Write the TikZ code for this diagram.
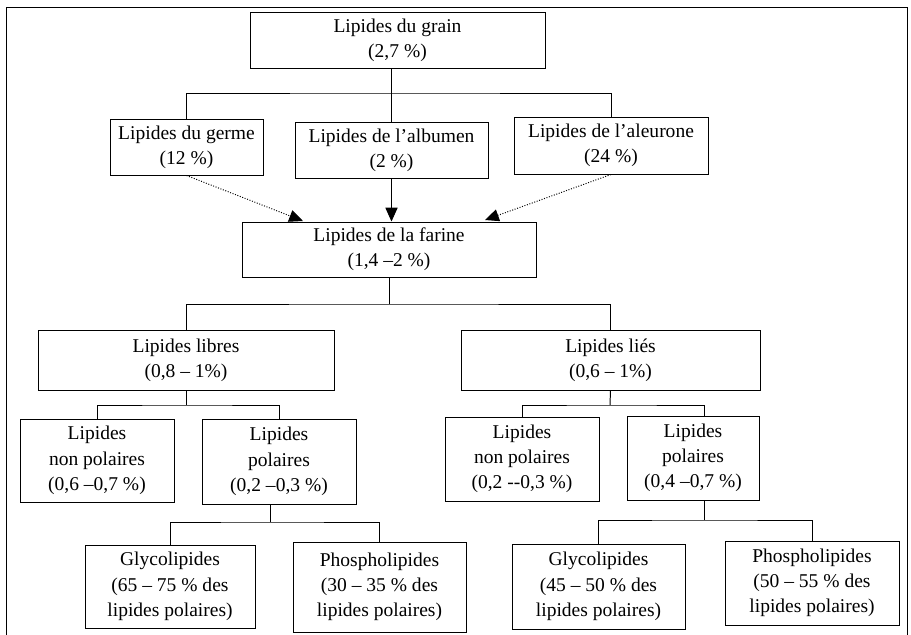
\documentclass[tikz,border=0pt]{standalone}
\usepackage{fontspec}
\setmainfont{Liberation Serif}
\usetikzlibrary{arrows.meta}
\newlength{\pxu}
\setlength{\pxu}{0.615pt}

\begin{document}
\begin{tikzpicture}[x=0.615pt,y=-0.615pt,
        lipbox/.style={draw=black,line width=0.6pt,inner sep=0pt,align=center,font=\fontsize{12}{15.5}\selectfont},
        tree/.style={line width=0.6pt},
        flow/.style={line width=0.6pt,-{Triangle[length=8.5pt,width=7.5pt]}},
        leak/.style={flow,densely dotted}]
        \useasboundingbox (0,0) rectangle (911,634);
        \draw[line width=0.6pt] (6,640) -- (6,7) -- (907,7) -- (907,640);
        \node[lipbox,minimum width=295\pxu,minimum height=56\pxu] (grain) at (397.5,40) {Lipides du grain\\(2,7 \%)};
        \node[lipbox,minimum width=153\pxu,minimum height=56\pxu] (germe) at (186.5,147) {Lipides du germe\\(12 \%)};
        \node[lipbox,minimum width=193\pxu,minimum height=56\pxu] (albumen) at (391.5,150) {Lipides de l’albumen\\(2 \%)};
        \node[lipbox,minimum width=194\pxu,minimum height=57\pxu] (aleurone) at (611,145.5) {Lipides de l’aleurone\\(24 \%)};
        \node[lipbox,minimum width=294\pxu,minimum height=55\pxu] (farine) at (389,249.5) {Lipides de la farine\\(1,4 –2 \%)};
        \node[lipbox,minimum width=296\pxu,minimum height=60\pxu] (libres) at (186,360) {Lipides libres\\(0,8 – 1\%)};
        \node[lipbox,minimum width=299\pxu,minimum height=60\pxu] (lies) at (610.5,360) {Lipides liés\\(0,6 – 1\%)};
        \node[lipbox,minimum width=154\pxu,minimum height=83\pxu] (npolA) at (97,460.5) {Lipides\\non polaires\\(0,6 –0,7 \%)};
        \node[lipbox,minimum width=154\pxu,minimum height=85\pxu] (polA) at (279,461.5) {Lipides\\polaires\\(0,2 –0,3 \%)};
        \node[lipbox,minimum width=154\pxu,minimum height=84\pxu] (npolB) at (522,459) {Lipides\\non polaires\\(0,2 -{}-0,3 \%)};
        \node[lipbox,minimum width=132\pxu,minimum height=84\pxu] (polB) at (693,458) {Lipides\\polaires\\(0,4 –0,7 \%)};
        \node[lipbox,minimum width=170\pxu,minimum height=83\pxu] (glyA) at (170,586.5) {Glycolipides\\(65 – 75 \% des\\lipides polaires)};
        \node[lipbox,minimum width=173\pxu,minimum height=90\pxu] (phoA) at (379.5,587) {Phospholipides\\(30 – 35 \% des\\lipides polaires)};
        \node[lipbox,minimum width=173\pxu,minimum height=85\pxu] (glyB) at (598.5,586.5) {Glycolipides\\(45 – 50 \% des\\lipides polaires)};
        \node[lipbox,minimum width=174\pxu,minimum height=84\pxu] (phoB) at (812,583) {Phospholipides\\(50 – 55 \% des\\lipides polaires)};
        \coordinate (barA) at (391,93);
        \coordinate (barB) at (389,304);
        \coordinate (barC) at (186,405);
        \coordinate (barD) at (610,405);
        \coordinate (barE) at (270,522);
        \coordinate (barF) at (704,520);
        \coordinate (inL) at (303,221);
        \coordinate (inR) at (485,220);
        \draw[tree] (grain.south -| barA) -- (barA);
        \draw[tree] (germe.north) |- (barA) -| (aleurone.north);
        \draw[tree] (barA) -- (albumen.north -| barA);
        \draw[leak] (germe.south) -- (inL);
        \draw[flow] (albumen.south) -- (albumen.south |- farine.north);
        \draw[leak] (aleurone.south) -- (inR);
        \draw[tree] (farine.south) -- (barB);
        \draw[tree] (libres.north) |- (barB) -| (lies.north);
        \draw[tree] (libres.south) -- (barC);
        \draw[tree] (npolA.north) |- (barC) -| (polA.north);
        \draw[tree] (lies.south) -- (barD);
        \draw[tree] (npolB.north) |- (barD) -| (polB.north -| barF);
        \draw[tree] (polA.south -| barE) -- (barE);
        \draw[tree] (glyA.north) |- (barE) -| (phoA.north);
        \draw[tree] (polB.south -| barF) -- (barF);
        \draw[tree] (glyB.north) |- (barF) -| (phoB.north);
    \end{tikzpicture}
\end{document}
